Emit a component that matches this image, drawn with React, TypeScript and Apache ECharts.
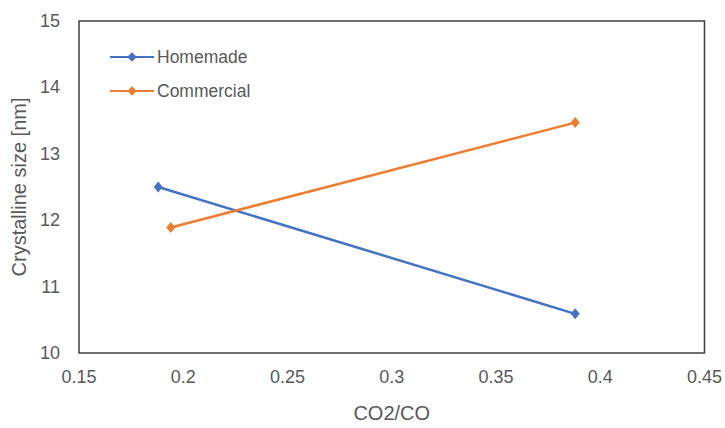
import React, { useEffect, useRef } from "react";
import * as echarts from "echarts";

// CO2/CO ratio vs. crystalline size for two catalyst samples
const homemadeX = [0.188, 0.388];
const homemadeY = [12.5, 10.59];
const commercialX = [0.194, 0.388];
const commercialY = [11.89, 13.47];

const xTicks = [0.15, 0.2, 0.25, 0.3, 0.35, 0.4, 0.45];
const yTicks = [10, 11, 12, 13, 14, 15];

const FONT = "'Liberation Sans', Arial, sans-serif";
const TEXT = "#595959";

const pairs = (xs: number[], ys: number[]) => xs.map((x, i) => [x, ys[i]]);

export default function App() {
  const ref = useRef<HTMLDivElement>(null);

  useEffect(() => {
    if (!ref.current) return;
    const chart = echarts.init(ref.current, undefined, { renderer: "svg" });
    chart.setOption({
      animation: false,
      backgroundColor: "#ffffff",
      textStyle: { fontFamily: FONT },
      grid: {
        left: 79,
        right: 17,
        top: 21,
        bottom: 69,
        show: true,
        borderColor: "#404040",
        borderWidth: 1.5,
        backgroundColor: "transparent",
      },
      legend: {
        orient: "vertical",
        left: 104,
        top: 43,
        itemWidth: 44,
        itemHeight: 12,
        itemGap: 16,
        textStyle: { fontFamily: FONT, fontSize: 17.5, color: TEXT, padding: [0, 0, 0, -2] },
        data: ["Homemade", "Commercial"],
      },
      xAxis: {
        type: "value",
        min: xTicks[0],
        max: xTicks[xTicks.length - 1],
        interval: 0.05,
        name: "CO2/CO",
        nameLocation: "middle",
        nameGap: 50,
        nameTextStyle: { fontFamily: FONT, fontSize: 20, color: TEXT },
        axisLine: { show: false },
        axisTick: { show: false },
        splitLine: { show: false },
        axisLabel: {
          fontFamily: FONT,
          fontSize: 18,
          color: TEXT,
          margin: 15,
          formatter: (v: number) => String(Math.round(v * 100) / 100),
        },
      },
      yAxis: {
        type: "value",
        min: yTicks[0],
        max: yTicks[yTicks.length - 1],
        interval: 1,
        name: "Crystalline size [nm]",
        nameLocation: "middle",
        nameGap: 47,
        nameTextStyle: { fontFamily: FONT, fontSize: 20, color: TEXT },
        axisLine: { show: false },
        axisTick: { show: false },
        splitLine: { show: false },
        axisLabel: {
          fontFamily: FONT,
          fontSize: 18,
          color: TEXT,
          margin: 19,
        },
      },
      series: [
        {
          name: "Homemade",
          type: "line",
          data: pairs(homemadeX, homemadeY),
          symbol: "diamond",
          symbolSize: [9, 11],
          color: "#4472C4",
          lineStyle: { width: 2.5, color: "#4472C4" },
          itemStyle: { color: "#4472C4" },
        },
        {
          name: "Commercial",
          type: "line",
          data: pairs(commercialX, commercialY),
          symbol: "diamond",
          symbolSize: [9, 11],
          color: "#ED7D31",
          lineStyle: { width: 2.5, color: "#ED7D31" },
          itemStyle: { color: "#ED7D31" },
        },
      ],
    });
    return () => chart.dispose();
  }, []);

  return (
    <div
      ref={ref}
      style={{ position: "absolute", left: 0, top: 0, width: 725, height: 428 }}
    />
  );
}
